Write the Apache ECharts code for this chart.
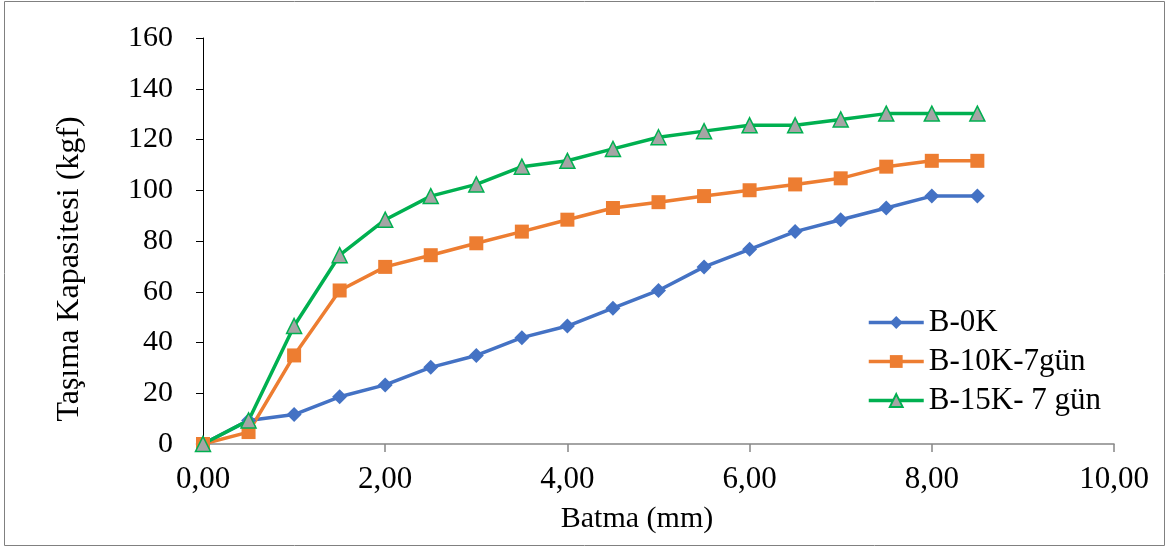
<!DOCTYPE html>
<html>
<head>
<meta charset="utf-8">
<script src="https://cdn.jsdelivr.net/npm/echarts@6/dist/echarts.min.js"></script>
<style>
html,body{margin:0;padding:0;background:#fff;}
#chart{width:1168px;height:548px;}
</style>
</head>
<body>
<div id="chart"></div>
<script>
const xValues = [0, 0.5, 1, 1.5, 2, 2.5, 3, 3.5, 4, 4.5, 5, 5.5, 6, 6.5, 7, 7.5, 8, 8.5];
const seriesNames = ['B-0K', 'B-10K-7gün', 'B-15K- 7 gün'];
const b0K = [0, 9.3, 11.6, 18.6, 23.3, 30.2, 34.9, 41.9, 46.5, 53.5, 60.5, 69.8, 76.7, 83.7, 88.4, 93.0, 97.7, 97.7];
const b10K = [0, 4.7, 34.9, 60.5, 69.8, 74.4, 79.1, 83.7, 88.4, 93.0, 95.3, 97.7, 100.0, 102.3, 104.7, 109.3, 111.6, 111.6];
const b15K = [0, 9.3, 46.5, 74.4, 88.4, 97.7, 102.3, 109.3, 111.6, 116.3, 120.9, 123.3, 125.6, 125.6, 127.9, 130.2, 130.2, 130.2];
const xTitle = 'Batma (mm)';
const yTitle = 'Taşıma Kapasitesi (kgf)';

const FONT = '"Liberation Serif", "Times New Roman", serif';
const pairs = arr => xValues.map((x, i) => [x, arr[i]]);

const chart = echarts.init(document.getElementById('chart'), null, {renderer: 'canvas'});
const lineSeries = (name, data, color, symbol, size, fill) => ({
  name, type: 'line', data: pairs(data),
  symbol, symbolSize: size,
  lineStyle: {color, width: 3.5},
  itemStyle: {color: fill || color, borderColor: color, borderWidth: fill ? 1.5 : 0},
  emphasis: {disabled: true},
  animation: false
});

chart.setOption({
  backgroundColor: '#fff',
  animation: false,
  grid: {left: 203, top: 38, width: 911, height: 406},
  xAxis: {
    type: 'value', min: 0, max: 10, interval: 2,
    axisLine: {show: true, lineStyle: {color: '#868686', width: 1.5}},
    axisTick: {show: true, length: 8, lineStyle: {color: '#868686', width: 1.5}},
    splitLine: {show: false},
    axisLabel: {
      margin: 20, color: '#000', fontFamily: FONT, fontSize: 31,
      formatter: v => v.toFixed(2).replace('.', ',')
    }
  },
  yAxis: {
    type: 'value', min: 0, max: 160, interval: 20,
    axisLine: {show: true, lineStyle: {color: '#000', width: 1}},
    axisTick: {show: true, length: 7, lineStyle: {color: '#000', width: 1}},
    splitLine: {show: false},
    axisLabel: {margin: 30, color: '#000', fontFamily: FONT, fontSize: 30}
  },
  legend: {
    orient: 'vertical', left: 867, top: 307, padding: 0,
    itemWidth: 55, itemHeight: 16, itemGap: 8,
    lineStyle: {width: 3.5},
    textStyle: {fontFamily: FONT, fontSize: 31, color: '#000'},
    data: seriesNames
  },
  graphic: [
    {type: 'rect', shape: {x: 4.5, y: 1.5, width: 1160, height: 544}, style: {fill: 'none', stroke: '#808080', lineWidth: 1}, silent: true},
    {type: 'text', x: 637, y: 519, style: {text: xTitle, font: '30px ' + FONT, fill: '#000', textAlign: 'center', textVerticalAlign: 'middle'}},
    {type: 'text', x: 70, y: 269, rotation: Math.PI / 2, style: {text: yTitle, font: '32px ' + FONT, fill: '#000', textAlign: 'center', textVerticalAlign: 'middle'}}
  ],
  series: [
    lineSeries(seriesNames[0], b0K, '#4472C4', 'diamond', 15),
    lineSeries(seriesNames[1], b10K, '#ED7D31', 'rect', 14),
    lineSeries(seriesNames[2], b15K, '#00B050', 'triangle', 15, '#A5A5A5')
  ]
});
</script>
</body>
</html>
